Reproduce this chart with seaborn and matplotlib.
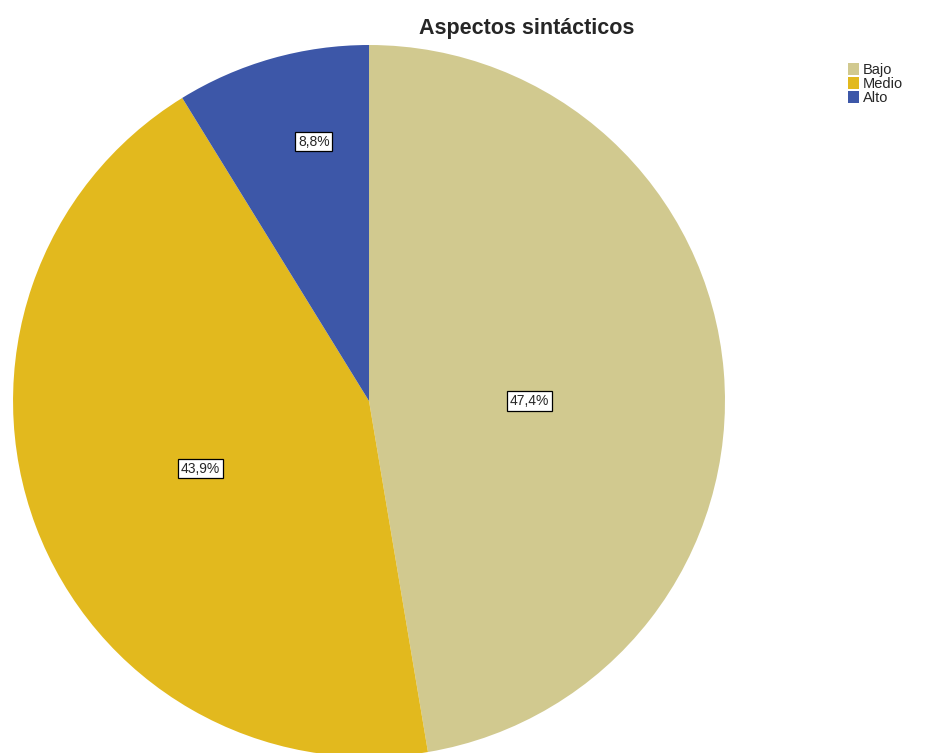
import numpy as np
import matplotlib
matplotlib.use("Agg")
import matplotlib.pyplot as plt
import seaborn as sns

categories = ["Bajo", "Medio", "Alto"]
values = [47.4, 43.9, 8.8]
colors = ["#D1C98F", "#E2B91E", "#3D57A8"]
# where each percentage box sits: fraction of radius and angle nudge (deg)
label_dist = [0.45, 0.51, 0.745]
label_nudge = [-4.7, 1.3, -3.8]

sns.set_theme(style="white")
plt.rcParams['font.family'] = ['Liberation Sans', 'DejaVu Sans']

fig = plt.figure(figsize=(9.38, 7.53), dpi=100)
ax = fig.add_axes([0.0139, -0.0053, 0.759, 0.9456])

wedges, _ = ax.pie(
    values,
    colors=colors,
    startangle=90,
    counterclock=False,
    radius=1.0,
    wedgeprops=dict(linewidth=0),
)

for w, v, d, n in zip(wedges, values, label_dist, label_nudge):
    ang = np.deg2rad((w.theta1 + w.theta2) / 2 + n)
    ax.text(
        d * np.cos(ang), d * np.sin(ang),
        "{:.1f}%".format(v).replace(".", ","),
        ha="center", va="center", fontsize=10,
        bbox=dict(boxstyle="square,pad=0.2", fc="white", ec="black", lw=0.9),
    )

ax.set_xlim(-1, 1)
ax.set_ylim(-1, 1)
ax.set_aspect("equal")
ax.axis("off")

fig.text(0.561, 0.962, "Aspectos sintácticos", ha="center", va="center",
         fontsize=15.5, fontweight="bold")

fig.legend(wedges, categories, loc="upper left", bbox_to_anchor=(0.896, 0.926),
           frameon=False, fontsize=10.5, handlelength=0.8, handleheight=0.8,
           handletextpad=0.25, labelspacing=0.0, borderpad=0)

fig.savefig("out.png", dpi=100)
